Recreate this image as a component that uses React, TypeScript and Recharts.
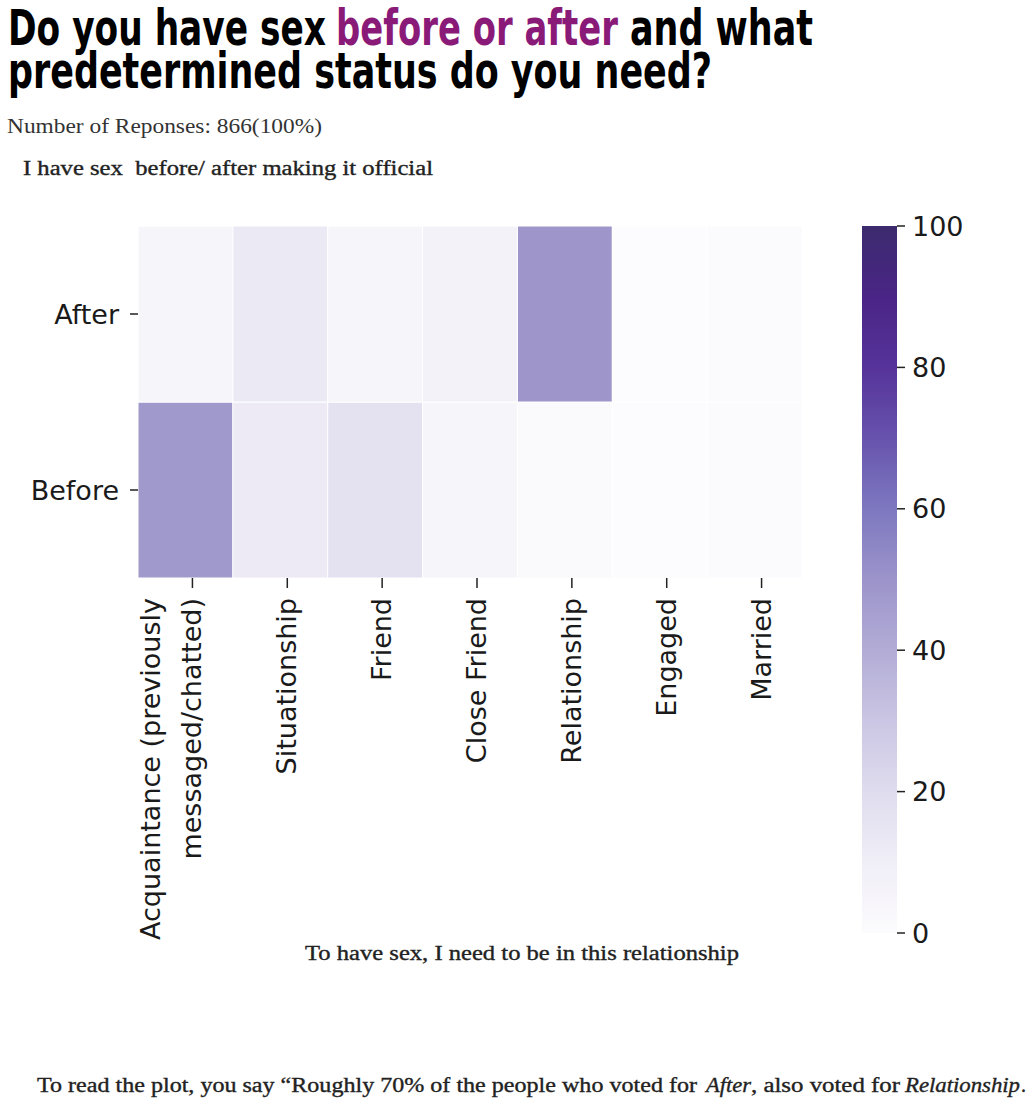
import { Bar, BarChart, Cell, XAxis, YAxis } from 'recharts'

// relationship status needed, one column each
const columns = [
  'Acquaintance (previously\nmessaged/chatted)',
  'Situationship',
  'Friend',
  'Close Friend',
  'Relationship',
  'Engaged',
  'Married',
]
const rowLabels = ['Before', 'After']
const beforeValues = [48, 12, 17, 5, 1.5, 0, 0.5]
const afterValues = [5, 13, 5, 7, 49, 0, 0.5]
const rowTicks = [0.5, 1.5]
const colorbarTicks = [0, 20, 40, 60, 80, 100]

// sampled from the reference colour bar (value -> colour)
const colorStops: [number, string][] = [
  [0, '#fcfbfd'],
  [10, '#f0eef7'],
  [20, '#dfdcee'],
  [30, '#cbc6e3'],
  [40, '#b2acd6'],
  [50, '#9c94ca'],
  [60, '#7d78c0'],
  [70, '#6753ad'],
  [80, '#56339a'],
  [90, '#4a2586'],
  [100, '#3c2b6e'],
]

const hex = (c: string) => [1, 3, 5].map((i) => parseInt(c.slice(i, i + 2), 16))

function colorFor(v: number) {
  for (let i = 1; i < colorStops.length; i++) {
    const [v1, c1] = colorStops[i]
    const [v0, c0] = colorStops[i - 1]
    if (v <= v1) {
      const t = (v - v0) / (v1 - v0)
      const a = hex(c0)
      const b = hex(c1)
      const m = a.map((x, k) => Math.round(x + (b[k] - x) * t))
      return `rgb(${m[0]},${m[1]},${m[2]})`
    }
  }
  return colorStops[colorStops.length - 1][1]
}

const cells = columns.map((name, i) => ({
  name,
  before: beforeValues[i],
  after: afterValues[i],
  beforeCell: 1,
  afterCell: 1,
}))

const tickFont = { fill: '#1a1a1a', fontSize: 27, fontFamily: 'DejaVu Sans' }
const serif = 'Liberation Serif, DejaVu Serif, serif'
const titleFont = 'DejaVu Sans Condensed, Liberation Sans Narrow, DejaVu Sans, sans-serif'

// the original plot has its x ticks sitting a little right of the cell centres
const X_TICK_SHIFT = 7

function XTick(props: any) {
  const { x, y, payload } = props
  const lines = String(payload.value).split('\n')
  const n = lines.length
  return (
    <g transform={`translate(${x + X_TICK_SHIFT},${y})`}>
      <line x1={0} x2={0} y1={-10} y2={0} stroke="#222" strokeWidth={1.5} />
      {lines.map((line, i) => (
        <text
          key={i}
          transform="rotate(-90)"
          x={-10}
          y={0}
          dy={9 - (n - 1 - i) * 41}
          textAnchor="end"
          {...tickFont}
        >
          {line}
        </text>
      ))}
    </g>
  )
}

function T({ x, y, w, children, ...rest }: any) {
  return (
    <text
      x={x}
      y={y}
      textLength={w}
      lengthAdjust="spacingAndGlyphs"
      style={{ whiteSpace: 'pre' }}
      {...rest}
    >
      {children}
    </text>
  )
}

export default function App() {
  const W = 1033
  const H = 1114
  return (
    <div style={{ position: 'relative', width: W, height: H, background: '#fff' }}>
      <style>{`body{margin:0}`}</style>

      <div style={{ position: 'absolute', left: 0, top: 0 }}>
        <BarChart
          width={W}
          height={H}
          data={cells}
          margin={{ top: 226, right: 231, bottom: H - 578 - 40, left: 0 }}
          barCategoryGap={0}
        >
          <XAxis
            dataKey="name"
            interval={0}
            height={40}
            tickSize={10}
            tickMargin={0}
            axisLine={false}
            tickLine={false}
            tick={XTick}
          />
          <YAxis
            type="number"
            domain={[0, 2]}
            ticks={rowTicks}
            width={138}
            tickSize={8}
            tickMargin={11}
            axisLine={false}
            tickLine={{ stroke: '#222', strokeWidth: 1.5 }}
            tick={tickFont}
            tickFormatter={(v: number) => rowLabels[Math.floor(v)]}
          />
          <Bar dataKey="beforeCell" stackId="s" stroke="#fff" strokeWidth={1} isAnimationActive={false}>
            {cells.map((c, i) => (
              <Cell key={i} fill={colorFor(c.before)} />
            ))}
          </Bar>
          <Bar dataKey="afterCell" stackId="s" stroke="#fff" strokeWidth={1} isAnimationActive={false}>
            {cells.map((c, i) => (
              <Cell key={i} fill={colorFor(c.after)} />
            ))}
          </Bar>
        </BarChart>
      </div>

      <div style={{ position: 'absolute', left: 0, top: 0 }}>
        <BarChart
          width={W}
          height={H}
          data={[{ v: 100 }]}
          margin={{ top: 226, right: W - 897 - 100, bottom: H - 933, left: 862 }}
          barCategoryGap={0}
        >
          <defs>
            <linearGradient id="cbar" x1="0" y1="1" x2="0" y2="0">
              {colorStops.map(([v, c]) => (
                <stop key={v} offset={`${v}%`} stopColor={c} />
              ))}
            </linearGradient>
          </defs>
          <XAxis hide />
          <YAxis
            orientation="right"
            type="number"
            domain={[0, 100]}
            ticks={colorbarTicks}
            width={100}
            tickSize={8}
            tickMargin={7}
            axisLine={false}
            tickLine={{ stroke: '#222', strokeWidth: 1.5 }}
            tick={tickFont}
          />
          <Bar dataKey="v" fill="url(#cbar)" isAnimationActive={false} />
        </BarChart>
      </div>

      <svg
        width={W}
        height={H}
        style={{ position: 'absolute', left: 0, top: 0, pointerEvents: 'none' }}
      >
        <g fontFamily={titleFont} fontWeight="bold" fontSize={50} fill="#000">
          <T x={8} y={45} w={318}>Do you have sex</T>
          <T x={336} y={45} w={282} fill="#8a1a78">before or after</T>
          <T x={630} y={45} w={183}>and what</T>
          <T x={8} y={88} w={704}>predetermined status do you need?</T>
        </g>
        <g fontFamily={serif} fill="#333">
          <T x={7} y={133} w={315} fontSize={20}>Number of Reponses: 866(100%)</T>
        </g>
        <g fontFamily={serif} fill="#222" stroke="#222" strokeWidth={0.35} fontSize={20}>
          <T x={23} y={175} w={410}>I have sex  before/ after making it official</T>
          <T x={305} y={960} w={434}>To have sex, I need to be in this relationship</T>
          <T x={37} y={1092} w={660}>To read the plot, you say “Roughly 70% of the people who voted for</T>
          <T x={706} y={1092} w={45} fontStyle="italic">After</T>
          <T x={751} y={1092} w={149}>, also voted for</T>
          <T x={905} y={1092} w={115} fontStyle="italic">Relationship</T>
          <T x={1021} y={1092} w={5}>.</T>
        </g>
      </svg>
    </div>
  )
}
